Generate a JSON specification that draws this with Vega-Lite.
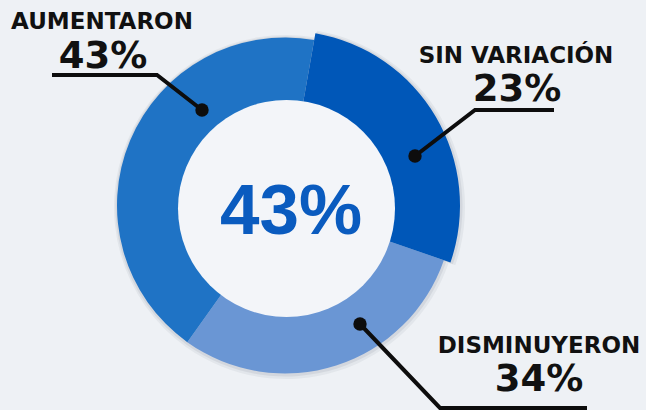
{
  "$schema": "https://vega.github.io/schema/vega-lite/v6.json",
  "width": 646,
  "height": 410,
  "padding": 0,
  "autosize": {"type": "fit", "contains": "padding"},
  "background": "#eef1f5",
  "config": {"view": {"stroke": null}},
  "datasets": {
    "shares": [
      {"cat": "SIN VARIACIÓN", "ord": 1, "share": 27.5},
      {"cat": "DISMINUYERON", "ord": 2, "share": 29.6},
      {"cat": "AUMENTARON", "ord": 3, "share": 42.9}
    ],
    "center": [{"text": "43%"}],
    "leaders": [
      {"grp": "AUMENTARON", "o": 1, "x": 52, "y": 75},
      {"grp": "AUMENTARON", "o": 2, "x": 157, "y": 75},
      {"grp": "AUMENTARON", "o": 3, "x": 202, "y": 110},
      {"grp": "SIN VARIACIÓN", "o": 1, "x": 554, "y": 110},
      {"grp": "SIN VARIACIÓN", "o": 2, "x": 475, "y": 110},
      {"grp": "SIN VARIACIÓN", "o": 3, "x": 415, "y": 156},
      {"grp": "DISMINUYERON", "o": 1, "x": 587, "y": 408},
      {"grp": "DISMINUYERON", "o": 2, "x": 440, "y": 408},
      {"grp": "DISMINUYERON", "o": 3, "x": 360, "y": 324}
    ],
    "labels": [
      {"t": "AUMENTARON", "kind": "cat", "x": 102, "y": 29},
      {"t": "43%", "kind": "pct", "x": 103, "y": 68},
      {"t": "SIN VARIACIÓN", "kind": "cat", "x": 516, "y": 63},
      {"t": "23%", "kind": "pct", "x": 517, "y": 101},
      {"t": "DISMINUYERON", "kind": "cat", "x": 539, "y": 353},
      {"t": "34%", "kind": "pct", "x": 539, "y": 391}
    ]
  },
  "layer": [
    {
      "data": {"name": "shares"},
      "transform": [
        {"stack": "share", "groupby": [], "sort": [{"field": "ord"}], "as": ["s0", "s1"]},
        {"filter": "datum.ord !== 1"}
      ],
      "mark": {"type": "arc", "outerRadius": 172, "innerRadius": 100, "color": "#7d8796", "opacity": 0.1},
      "encoding": {
        "theta": {"field": "s0", "type": "quantitative", "scale": {"domain": [0, 100], "range": [0.1745, 6.4577]}},
        "theta2": {"field": "s1"},
        "x": {"value": 286},
        "y": {"value": 207}
      }
    },
    {
      "data": {"name": "shares"},
      "transform": [
        {"stack": "share", "groupby": [], "sort": [{"field": "ord"}], "as": ["s0", "s1"]},
        {"filter": "datum.ord !== 1"}
      ],
      "mark": {"type": "arc", "outerRadius": 170, "innerRadius": 100, "color": "#7d8796", "opacity": 0.15},
      "encoding": {
        "theta": {"field": "s0", "type": "quantitative", "scale": {"domain": [0, 100], "range": [0.1745, 6.4577]}},
        "theta2": {"field": "s1"},
        "x": {"value": 285.5},
        "y": {"value": 206.5}
      }
    },
    {
      "data": {"name": "shares"},
      "transform": [
        {"stack": "share", "groupby": [], "sort": [{"field": "ord"}], "as": ["s0", "s1"]},
        {"filter": "datum.ord === 1"}
      ],
      "mark": {"type": "arc", "outerRadius": 179, "innerRadius": 100, "padAngle": -0.02, "color": "#7d8796", "opacity": 0.1},
      "encoding": {
        "theta": {"field": "s0", "type": "quantitative", "scale": {"domain": [0, 100], "range": [0.1745, 6.4577]}},
        "theta2": {"field": "s1"},
        "x": {"value": 286},
        "y": {"value": 207}
      }
    },
    {
      "data": {"name": "shares"},
      "transform": [
        {"stack": "share", "groupby": [], "sort": [{"field": "ord"}], "as": ["s0", "s1"]},
        {"filter": "datum.ord === 1"}
      ],
      "mark": {"type": "arc", "outerRadius": 177, "innerRadius": 100, "color": "#7d8796", "opacity": 0.15},
      "encoding": {
        "theta": {"field": "s0", "type": "quantitative", "scale": {"domain": [0, 100], "range": [0.1745, 6.4577]}},
        "theta2": {"field": "s1"},
        "x": {"value": 285.5},
        "y": {"value": 206.5}
      }
    },
    {
      "data": {"name": "shares"},
      "transform": [
        {"stack": "share", "groupby": [], "sort": [{"field": "ord"}], "as": ["s0", "s1"]},
        {"filter": "datum.ord !== 1"}
      ],
      "mark": {"type": "arc", "outerRadius": 168, "innerRadius": 100},
      "encoding": {
        "theta": {"field": "s0", "type": "quantitative", "scale": {"domain": [0, 100], "range": [0.1745, 6.4577]}},
        "theta2": {"field": "s1"},
        "color": {
          "field": "cat",
          "type": "nominal",
          "scale": {"domain": ["SIN VARIACIÓN", "DISMINUYERON", "AUMENTARON"], "range": ["#0057b8", "#6a96d4", "#1f73c5"]},
          "legend": null
        },
        "x": {"value": 285},
        "y": {"value": 205.5}
      }
    },
    {
      "data": {"name": "shares"},
      "transform": [
        {"stack": "share", "groupby": [], "sort": [{"field": "ord"}], "as": ["s0", "s1"]},
        {"filter": "datum.ord === 1"}
      ],
      "mark": {"type": "arc", "outerRadius": 175, "innerRadius": 100},
      "encoding": {
        "theta": {"field": "s0", "type": "quantitative", "scale": {"domain": [0, 100], "range": [0.1745, 6.4577]}},
        "theta2": {"field": "s1"},
        "color": {
          "field": "cat",
          "type": "nominal",
          "scale": {"domain": ["SIN VARIACIÓN", "DISMINUYERON", "AUMENTARON"], "range": ["#0057b8", "#6a96d4", "#1f73c5"]},
          "legend": null
        },
        "x": {"value": 285},
        "y": {"value": 205.5}
      }
    },
    {
      "data": {"name": "center"},
      "mark": {"type": "arc", "outerRadius": 108.5, "theta": 0, "theta2": 6.2832, "color": "#f3f5f9"},
      "encoding": {
        "x": {"value": 286.5},
        "y": {"value": 208.5}
      }
    },
    {
      "data": {"name": "center"},
      "mark": {"type": "text", "font": "Liberation Sans", "fontWeight": "bold", "fontSize": 71, "color": "#0a5bbf", "align": "center", "baseline": "alphabetic"},
      "encoding": {
        "text": {"field": "text"},
        "x": {"value": 291},
        "y": {"value": 234}
      }
    },
    {
      "data": {"name": "leaders"},
      "mark": {"type": "line", "color": "#0d0d0d", "strokeWidth": 4, "strokeCap": "butt", "strokeJoin": "miter"},
      "encoding": {
        "x": {"field": "x", "type": "quantitative", "scale": {"domain": [0, 646], "range": [0, 646]}, "axis": null},
        "y": {"field": "y", "type": "quantitative", "scale": {"domain": [0, 410], "range": [0, 410]}, "axis": null},
        "detail": {"field": "grp"},
        "order": {"field": "o"}
      }
    },
    {
      "data": {"name": "leaders"},
      "transform": [{"filter": "datum.o === 3"}],
      "mark": {"type": "point", "filled": true, "color": "#0d0d0d", "opacity": 1, "size": 180},
      "encoding": {
        "x": {"field": "x", "type": "quantitative", "scale": {"domain": [0, 646], "range": [0, 646]}, "axis": null},
        "y": {"field": "y", "type": "quantitative", "scale": {"domain": [0, 410], "range": [0, 410]}, "axis": null}
      }
    },
    {
      "data": {"name": "labels"},
      "mark": {"type": "text", "font": "DejaVu Sans", "fontWeight": "bold", "color": "#111111", "align": "center", "baseline": "alphabetic"},
      "encoding": {
        "x": {"field": "x", "type": "quantitative", "scale": {"domain": [0, 646], "range": [0, 646]}, "axis": null},
        "y": {"field": "y", "type": "quantitative", "scale": {"domain": [0, 410], "range": [0, 410]}, "axis": null},
        "text": {"field": "t"},
        "size": {"condition": {"test": "datum.kind === 'cat'", "value": 23}, "value": 37}
      }
    }
  ]
}
